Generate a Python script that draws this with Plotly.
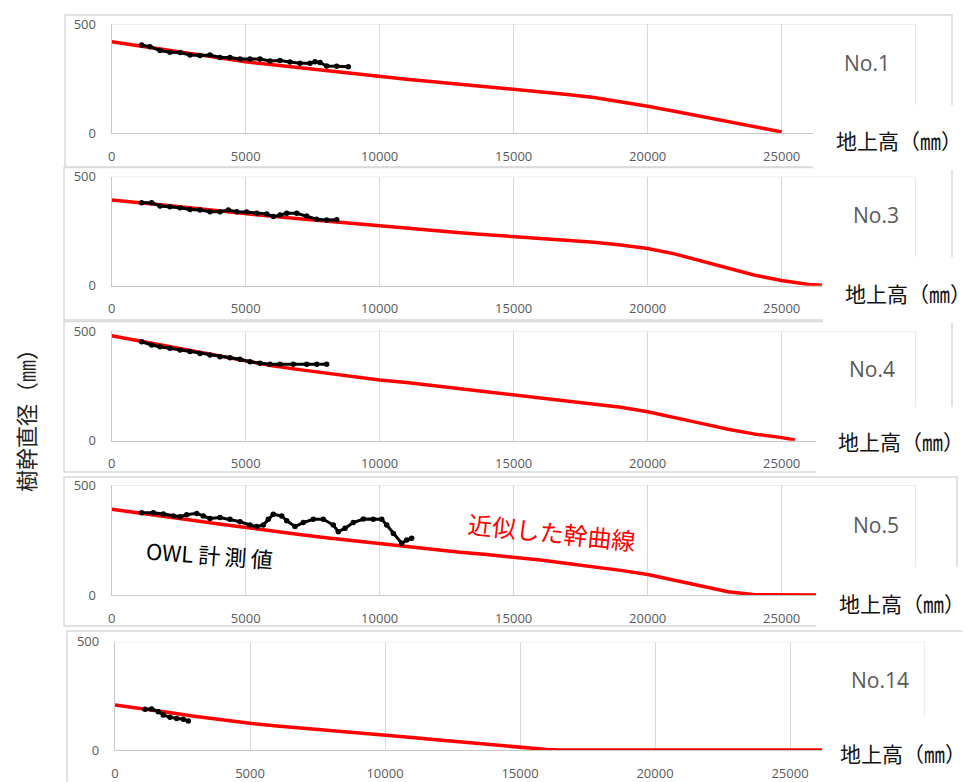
import plotly.graph_objects as go

# ---------------- data ----------------
panel_names = ["No.1", "No.3", "No.4", "No.5", "No.14"]

red1_x = [0, 1000, 2000, 3000, 4000, 5000, 6000, 7000, 8000, 9000, 10000, 11000, 12000,
          13000, 14000, 15000, 16000, 17000, 18000, 19000, 20000, 21000, 22000, 23000, 24000, 25000]
red1_y = [419, 400, 382, 364, 345, 327, 313, 299, 285, 271, 258, 247, 235,
          224, 212, 200, 189, 177, 163, 145, 123, 100, 77, 52, 27, 5]

red2_x = [0, 1000, 2000, 3000, 4000, 5000, 6000, 7000, 8000, 9000, 10000, 11000, 12000,
          13000, 14000, 15000, 16000, 17000, 18000, 19000, 20000, 21000, 22000, 23000, 24000,
          25000, 26000, 26500]
red2_y = [393, 382, 369, 356, 342, 328, 318, 307, 296, 286, 275, 264, 253,
          243, 234, 226, 218, 209, 199, 187, 171, 146, 113, 79, 48,
          24, 6, 2]

red3_x = [0, 1000, 2000, 3000, 4000, 5000, 6000, 7000, 8000, 9000, 10000, 11000, 12000,
          13000, 14000, 15000, 16000, 17000, 18000, 19000, 20000, 21000, 22000, 23000, 24000,
          25000, 25500]
red3_y = [478, 455, 432, 409, 386, 364, 341, 324, 308, 292, 277, 265, 251,
          238, 224, 211, 198, 184, 169, 152, 132, 107, 79, 52, 30,
          14, 3]

red4_x = [0, 1000, 2000, 3000, 4000, 5000, 6000, 7000, 8000, 9000, 10000, 11000, 12000,
          13000, 14000, 15000, 16000, 17000, 18000, 19000, 20000, 21000, 22000, 23000, 24000,
          25000, 26500]
red4_y = [390, 372, 356, 340, 323, 306, 290, 275, 260, 246, 232, 218, 205,
          194, 184, 173, 159, 143, 128, 112, 93, 66, 40, 15, 1,
          0, 0]

red5_x = [0, 1000, 2000, 3000, 4000, 5000, 6000, 7000, 8000, 9000, 10000, 11000, 12000,
          13000, 14000, 15000, 16000, 16500, 26500]
red5_y = [208, 192, 173, 155, 138, 123, 111, 101, 91, 80, 69, 58, 46,
          35, 24, 11, 2, 0, 0]

owl1_x = [1118, 1429, 1802, 2175, 2548, 2922, 3295, 3668, 4041, 4414, 4787, 5160, 5534,
          5907, 6280, 6653, 7026, 7399, 7586, 7772, 8022, 8396, 8829]
owl1_y = [404, 396, 378, 370, 369, 358, 356, 358, 346, 346, 339, 339, 339,
          330, 332, 326, 320, 320, 327, 323, 307, 306, 304]

owl2_x = [1118, 1491, 1802, 2175, 2548, 2922, 3295, 3668, 4041, 4352, 4664, 5037, 5410,
          5784, 6030, 6280, 6530, 6903, 7276, 7649, 8022, 8396]
owl2_y = [381, 381, 366, 362, 358, 350, 347, 339, 339, 347, 339, 338, 332,
          329, 317, 324, 332, 332, 320, 305, 301, 303]

owl3_x = [1118, 1491, 1802, 2175, 2548, 2922, 3295, 3668, 4041, 4414, 4787, 5160, 5534,
          5907, 6280, 6776, 7276, 7649, 8022]
owl3_y = [451, 436, 428, 421, 413, 406, 398, 391, 383, 378, 371, 360, 353,
          348, 348, 348, 348, 348, 348]

owl4_x = [1119, 1552, 1925, 2299, 2548, 2799, 3172, 3418, 3668, 4041, 4414, 4787, 5160,
          5410, 5657, 5843, 6030, 6343, 6530, 6840, 7149, 7522, 7896, 8269, 8455, 8705,
          9015, 9388, 9761, 10075, 10262, 10510, 10821, 11007, 11194]
owl4_y = [374, 374, 368, 359, 356, 365, 371, 359, 348, 352, 344, 333, 318,
          311, 318, 344, 367, 359, 338, 311, 329, 344, 344, 318, 288, 303,
          329, 345, 344, 344, 318, 280, 235, 250, 258]

owl5_x = [1111, 1358, 1605, 1790, 2037, 2284, 2531, 2716]
owl5_y = [188, 189, 177, 162, 151, 146, 142, 134]

x_tickvals = [0, 5000, 10000, 15000, 20000, 25000, 30000]
x_ticktext = ["0", "5000", "10000", "15000", "20000", "25000", ""]
y_tickvals = [0, 500]
y_ticktext = ["0", "500"]

red_series = [(red1_x, red1_y), (red2_x, red2_y), (red3_x, red3_y), (red4_x, red4_y), (red5_x, red5_y)]
owl_series = [(owl1_x, owl1_y), (owl2_x, owl2_y), (owl3_x, owl3_y), (owl4_x, owl4_y), (owl5_x, owl5_y)]

# ---------------- layout geometry (screen pixels) ----------------
# The page body has an 8px margin, so the figure is 8px smaller on each axis
# and all screen positions are shifted by 8px.
OFF = 8
W, H = 970 - OFF, 782 - OFF
def px(x):
    return (x - OFF) / W
def py(y):
    return 1 - (y - OFF) / H

# plot areas: (x_left, x_right, y_top, y_bottom)
plot_areas = [
    (111.7, 915.7, 24, 133),
    (111.7, 915.7, 176.7, 285.7),
    (111.7, 915.7, 331, 440.7),
    (111.7, 915.7, 485, 595),
    (115, 925, 641.7, 750),
]
# chart boxes (x0, y0, x1, y1)
boxes = [
    (65, 15, 952, 167),
    (64, 167.5, 952, 320),
    (64, 321.5, 952, 472),
    (64, 477, 957, 626),
    (67, 631, 963, 790),
]
# white label boxes (x0, y0, x1, y1) and label centre
label_boxes = [
    (813, 105, 972, 170, 899, 140),
    (823, 257, 972, 323, 908, 293),
    (816, 407, 972, 475, 901, 441),
    (816, 567, 972, 630, 902, 603),
    (822, 718, 972, 785, 903, 753),
]
name_pos = [(867, 63), (876, 215), (872, 369), (876, 525), (880, 680)]

GRID = "#D9D9D9"
TICKC = "#595959"
TICKFONT = dict(family="Open Sans", size=13, color=TICKC)

fig = go.Figure()
layout = dict(
    width=W, height=H, margin=dict(l=0, r=0, t=0, b=0, pad=0, autoexpand=False),
    paper_bgcolor="white", plot_bgcolor="white", showlegend=False,
    template="none",
)

shapes = []
annotations = []

for b in boxes:
    shapes.append(dict(type="rect", xref="paper", yref="paper",
                       x0=px(b[0]), x1=px(b[2]), y0=py(b[3]), y1=py(b[1]),
                       line=dict(color=GRID, width=1.5), fillcolor="rgba(0,0,0,0)", layer="below"))

for i, (pa, (rx, ry), (ox, oy)) in enumerate(zip(plot_areas, red_series, owl_series)):
    suf = "" if i == 0 else str(i + 1)
    xa, ya = "x" + suf, "y" + suf
    layout["xaxis" + suf] = dict(
        domain=[px(pa[0]), px(pa[1])], anchor=ya, range=[0, 30000], automargin=False,
        tickvals=x_tickvals, ticktext=x_ticktext, showgrid=True, gridcolor=GRID, gridwidth=1,
        showline=True, linecolor="#C8C8C8", linewidth=1.3, zeroline=False,
        tickfont=TICKFONT, ticks="", ticklabelstandoff=11, fixedrange=True,
    )
    layout["yaxis" + suf] = dict(
        domain=[py(pa[3]), py(pa[2])], anchor=xa, range=[0, 500], automargin=False,
        tickvals=y_tickvals, ticktext=y_ticktext, showgrid=True, gridcolor=GRID, gridwidth=1,
        showline=True, linecolor="#C8C8C8", linewidth=1.3, zeroline=False,
        tickfont=TICKFONT, ticks="", ticklabelstandoff=12, fixedrange=True,
    )
    # right-most vertical gridline (30000) and top gridline (500) at the plot edge
    shapes.append(dict(type="line", xref=xa, yref=ya, x0=30000, x1=30000, y0=0, y1=500,
                       line=dict(color=GRID, width=1), layer="below"))
    shapes.append(dict(type="line", xref=xa, yref=ya, x0=0, x1=30000, y0=500, y1=500,
                       line=dict(color=GRID, width=1), layer="below"))
    fig.add_trace(go.Scatter(x=rx, y=ry, xaxis=xa, yaxis=ya, mode="lines",
                             line=dict(color="#FF0000", width=3.5), cliponaxis=False,
                             hoverinfo="skip"))
    fig.add_trace(go.Scatter(x=ox, y=oy, xaxis=xa, yaxis=ya, mode="lines+markers",
                             line=dict(color="black", width=3),
                             marker=dict(color="black", size=5.5, symbol="circle"),
                             cliponaxis=False, hoverinfo="skip"))

for lb in label_boxes:
    shapes.append(dict(type="rect", xref="paper", yref="paper",
                       x0=px(lb[0]), x1=px(lb[2]), y0=py(lb[3]), y1=py(lb[1]),
                       line=dict(width=0), fillcolor="white", layer="above"))
    annotations.append(dict(text="地上高（㎜）", xref="paper", yref="paper",
                            x=px(lb[4]), y=py(lb[5]), showarrow=False,
                            xanchor="center", yanchor="middle",
                            font=dict(family="Noto Sans CJK JP", size=21, color="#111111")))

for name, (nx, ny) in zip(panel_names, name_pos):
    annotations.append(dict(text=name, xref="paper", yref="paper", x=px(nx), y=py(ny),
                            showarrow=False, xanchor="center", yanchor="middle",
                            font=dict(family="Open Sans", size=21, color=TICKC)))

annotations.append(dict(text="樹幹直径（㎜）", xref="paper", yref="paper", x=px(25), y=py(415),
                        showarrow=False, textangle=-90, xanchor="center", yanchor="middle",
                        font=dict(family="Noto Sans CJK JP", size=22, color="#222222")))
annotations.append(dict(text="OWL 計\u2009測\u2009値", xref="paper", yref="paper", x=px(209), y=py(554),
                        showarrow=False, textangle=4, xanchor="center", yanchor="middle",
                        font=dict(family="Noto Sans CJK JP", size=22, color="black")))
annotations.append(dict(text="近似した幹曲線", xref="paper", yref="paper", x=px(552), y=py(531),
                        showarrow=False, textangle=6, xanchor="center", yanchor="middle",
                        font=dict(family="Noto Sans CJK JP", size=24, color="#FF0000")))

layout["shapes"] = shapes
layout["annotations"] = annotations
fig.update_layout(**layout)
fig.write_html("out.html")
